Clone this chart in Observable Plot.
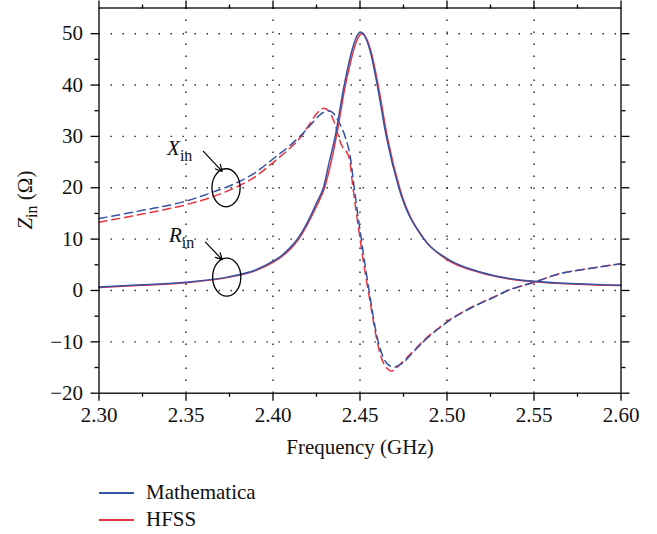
<!DOCTYPE html>
<html>
<head>
<meta charset="utf-8">
<script src="https://cdn.jsdelivr.net/npm/d3@7"></script>
<script src="https://cdn.jsdelivr.net/npm/@observablehq/plot@0.6"></script>
<style>
  body { margin: 0; background: #fff; font-family: Liberation Serif, serif; color: #111; }
  #chart svg { display: block; }
  #legend { margin-left: 99px; margin-top: 14px; font-size: 21px; font-family: Liberation Serif, serif; }
  #legend .row { height: 27px; line-height: 27px; display: flex; align-items: center; }
  #legend .sw { display: inline-block; width: 35px; height: 2px; margin-right: 12px; }
</style>
</head>
<body>
<div id="chart"></div>
<div id="legend"></div>
<script>
// Input impedance of the antenna: resistance R_in (solid) and reactance X_in (dashed),
// computed in Mathematica and simulated in HFSS.

const FONT = "Liberation Serif, serif";
const FS = 21;

const seriesNames = ["Mathematica", "HFSS"];
const seriesColors = ["#3452a4", "#e8343f"];

// R_in, Mathematica
const rMathFreq = [2.30, 2.325, 2.35, 2.375, 2.39, 2.40, 2.405, 2.41, 2.414, 2.42, 2.425, 2.4292, 2.432, 2.4359, 2.4407, 2.443, 2.446, 2.4483, 2.4505, 2.4528, 2.4559, 2.4599, 2.4651, 2.4723, 2.4867, 2.50, 2.519, 2.535, 2.55, 2.575, 2.60];
const rMath     = [0.7, 1.1, 1.6, 2.7, 4.0, 5.7, 6.8, 8.4, 10.0, 13.4, 17.0, 20.3, 24.5, 30.3, 39.6, 43.4, 47.5, 49.6, 50.3, 49.5, 46.5, 40.0, 30.0, 20.0, 10.0, 6.2, 3.6, 2.4, 1.8, 1.3, 1.0];

// R_in, HFSS
const rHfssFreq = [2.30, 2.325, 2.35, 2.375, 2.39, 2.40, 2.405, 2.41, 2.415, 2.42, 2.425, 2.43, 2.433, 2.4366, 2.4414, 2.4437, 2.4467, 2.449, 2.4512, 2.4535, 2.4566, 2.4606, 2.4658, 2.4730, 2.4874, 2.50, 2.519, 2.535, 2.55, 2.575, 2.60];
const rHfss     = [0.6, 1.0, 1.5, 2.6, 3.9, 5.5, 6.6, 8.1, 10.1, 13.0, 16.4, 20.4, 24.4, 30.3, 39.6, 43.2, 47.2, 49.3, 50.0, 49.2, 46.2, 39.7, 29.7, 19.7, 9.8, 6.0, 3.5, 2.3, 1.7, 1.2, 0.95];

// X_in, Mathematica
const xMathFreq = [2.30, 2.325, 2.35, 2.365, 2.38, 2.39, 2.40, 2.41, 2.416, 2.422, 2.427, 2.432, 2.435, 2.438, 2.4417, 2.4445, 2.4465, 2.4485, 2.4505, 2.4525, 2.4545, 2.4565, 2.4585, 2.4605, 2.4635, 2.4665, 2.4695, 2.4742, 2.4809, 2.4876, 2.4953, 2.502, 2.5116, 2.5193, 2.5279, 2.5336, 2.55, 2.5652, 2.5806, 2.60];
const xMath     = [14.0, 15.6, 17.4, 19.1, 21.1, 23.0, 25.6, 28.3, 30.2, 32.4, 34.2, 35.0, 34.4, 32.7, 29.7, 25.8, 20.5, 15.3, 10.6, 5.9, 1.5, -2.7, -6.8, -10.0, -13.1, -14.5, -14.9, -14.2, -11.9, -9.6, -7.4, -5.7, -3.8, -2.5, -1.2, -0.2, 1.6, 3.3, 4.2, 5.2];

// X_in, HFSS
const xHfssFreq = [2.30, 2.325, 2.35, 2.365, 2.38, 2.39, 2.40, 2.41, 2.416, 2.421, 2.425, 2.4292, 2.4325, 2.4355, 2.439, 2.4438, 2.4458, 2.4478, 2.4498, 2.4518, 2.454, 2.4561, 2.4582, 2.4603, 2.4632, 2.466, 2.468, 2.4705, 2.4742, 2.4809, 2.4876, 2.4953, 2.502, 2.5116, 2.5193, 2.5279, 2.5336, 2.55, 2.5652, 2.5806, 2.60];
const xHfss     = [13.3, 14.9, 16.7, 18.2, 20.3, 22.2, 24.9, 27.8, 29.9, 32.4, 34.4, 35.5, 34.8, 32.4, 28.6, 25.8, 20.5, 15.3, 10.6, 5.9, 1.4, -2.8, -7.0, -10.6, -13.9, -15.3, -15.7, -15.2, -14.0, -11.7, -9.4, -7.3, -5.6, -3.7, -2.4, -1.1, -0.2, 1.6, 3.3, 4.2, 5.2];

// Axis ticks
const xTicks = [2.30, 2.35, 2.40, 2.45, 2.50, 2.55, 2.60];
const xMinorTicks = [2.325, 2.375, 2.425, 2.475, 2.525, 2.575];
const yTicks = [-20, -10, 0, 10, 20, 30, 40, 50];
const yMinorTicks = [-15, -5, 5, 15, 25, 35, 45];

// Annotations: label position, arrow, and ellipse around each pair of curves
const annLabels = ["X", "R"];
const annLabelF = [2.3394, 2.3405];
const annLabelZ = [26.2, 9.4];
const arrowF1 = [2.3600, 2.3612], arrowZ1 = [27.1, 9.4];
const arrowF2 = [2.3708, 2.3708], arrowZ2 = [23.2, 6.0];
const ellipseF = [2.3733, 2.3737], ellipseZ = [19.9, 2.5];
const ellipseRF = 0.0081, ellipseRZ = 3.7;

const rows = (fs, vs) => fs.map((f, i) => ({f, z: vs[i]}));
const arrows = arrowF1.map((f, i) => ({f1: f, z1: arrowZ1[i], f2: arrowF2[i], z2: arrowZ2[i]}));

const minus = d => d < 0 ? "\u2212" + Math.abs(d) : String(d);
const gridStyle = {stroke: "#222", strokeOpacity: 1, strokeWidth: 1.4, strokeDasharray: "1.4,10.6"};
const tickStyle = {label: null, stroke: "#000", strokeWidth: 1.3, fontFamily: FONT, fontSize: FS, fill: "#111"};
const blank = () => "";

const plot = Plot.plot({
  width: 657,
  height: 465,
  marginLeft: 98.5,
  marginRight: 36.5,
  marginTop: 7.5,
  marginBottom: 72.3,
  style: {fontFamily: FONT, fontSize: FS + "px", color: "#111", background: "#fff", overflow: "visible"},
  x: {domain: [2.30, 2.60]},
  y: {domain: [-20, 55]},
  marks: [
    Plot.gridX(xTicks.slice(1, -1), gridStyle),
    Plot.gridY(yTicks.slice(1), gridStyle),
    Plot.line(rows(xHfssFreq, xHfss), {x: "f", y: "z", stroke: seriesColors[1], strokeWidth: 1.5, strokeDasharray: "8,5", curve: "monotone-x"}),
    Plot.line(rows(xMathFreq, xMath), {x: "f", y: "z", stroke: seriesColors[0], strokeWidth: 1.5, strokeDasharray: "8,5", curve: "monotone-x"}),
    Plot.line(rows(rHfssFreq, rHfss), {x: "f", y: "z", stroke: seriesColors[1], strokeWidth: 1.5, curve: "monotone-x"}),
    Plot.line(rows(rMathFreq, rMath), {x: "f", y: "z", stroke: seriesColors[0], strokeWidth: 1.5, curve: "monotone-x"}),
    Plot.arrow(arrows, {x1: "f1", y1: "z1", x2: "f2", y2: "z2", stroke: "#000", strokeWidth: 1.2, headLength: 9, headAngle: 55}),
    Plot.frame({stroke: "#000", strokeWidth: 1.3}),
    Plot.axisX(xTicks, {...tickStyle, tickSize: 8, tickPadding: 6, tickFormat: d3.format(".2f")}),
    Plot.axisX(xMinorTicks, {...tickStyle, tickSize: 4, tickFormat: blank}),
    Plot.axisX(xTicks, {...tickStyle, anchor: "top", tickSize: 8, tickFormat: blank}),
    Plot.axisX(xMinorTicks, {...tickStyle, anchor: "top", tickSize: 4, tickFormat: blank}),
    Plot.axisY(yTicks, {...tickStyle, tickSize: 8, tickPadding: 8, tickFormat: minus}),
    Plot.axisY(yMinorTicks, {...tickStyle, tickSize: 4, tickFormat: blank}),
    Plot.axisY(yTicks, {...tickStyle, anchor: "right", tickSize: 8, tickFormat: blank}),
    Plot.axisY(yMinorTicks, {...tickStyle, anchor: "right", tickSize: 4, tickFormat: blank}),
    Plot.text(["Frequency (GHz)"], {frameAnchor: "bottom", lineAnchor: "middle", dy: 54, fontSize: FS, fontFamily: FONT, fill: "#111"})
  ]
});

const svg = d3.select(plot).attr("font-family", FONT);
document.getElementById("chart").append(plot);

// Rich-text labels (italic symbol + subscript) and ellipses, placed through the plot's scales
const sx = plot.scale("x"), sy = plot.scale("y");

// Y-axis title
const yt = svg.append("text")
  .attr("transform", `translate(32,${(7.5 + (465 - 72.3)) / 2}) rotate(-90)`)
  .attr("text-anchor", "middle").attr("font-family", FONT).attr("font-size", FS).attr("fill", "#111");
yt.append("tspan").attr("font-style", "italic").text("Z");
yt.append("tspan").attr("font-size", 16).attr("dy", 5).text("in");
yt.append("tspan").attr("dy", -5).text("\u00a0(\u03a9)");

annLabels.forEach((s, i) => {
  const t = svg.append("text")
    .attr("x", sx.apply(annLabelF[i])).attr("y", sy.apply(annLabelZ[i]))
    .attr("text-anchor", "start")
    .attr("font-family", FONT).attr("font-size", FS).attr("fill", "#111");
  t.append("tspan").attr("font-style", "italic").text(s);
  t.append("tspan").attr("font-size", 16).attr("dy", 6).text("in");

  const cx = sx.apply(ellipseF[i]), cy = sy.apply(ellipseZ[i]);
  svg.append("ellipse")
    .attr("cx", cx).attr("cy", cy)
    .attr("rx", sx.apply(ellipseF[i] + ellipseRF) - cx)
    .attr("ry", cy - sy.apply(ellipseZ[i] + ellipseRZ))
    .attr("fill", "none").attr("stroke", "#000").attr("stroke-width", 1.3);
});

// Legend
const legend = d3.select("#legend").style("font-family", FONT);
seriesNames.forEach((name, i) => {
  const row = legend.append("div").attr("class", "row");
  row.append("span").attr("class", "sw").style("background", seriesColors[i]);
  row.append("span").text(name);
});
</script>
</body>
</html>
